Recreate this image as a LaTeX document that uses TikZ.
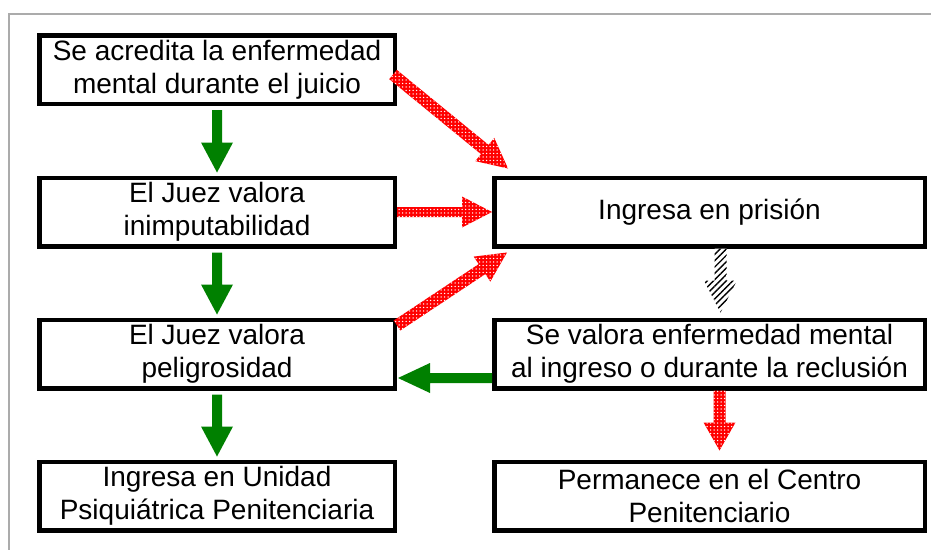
\documentclass[tikz,border=0pt]{standalone}
\usepackage{fontspec}
\setmainfont{Liberation Sans}
\usetikzlibrary{calc,patterns,patterns.meta}

% #1 style, #2 from, #3 to, #4 shaft half width, #5 head half width, #6 head length
\newcommand\blockarrow[6]{%
  \coordinate (ba-h) at ($(#3)!#6!(#2)$);
  \path[#1] ($(#2)!#4!90:(#3)$) -- ($(ba-h)!#4!90:(#3)$) -- ($(ba-h)!#5!90:(#3)$)
    -- (#3) -- ($(ba-h)!#5!-90:(#3)$) -- ($(ba-h)!#4!-90:(#3)$) -- ($(#2)!#4!-90:(#3)$) -- cycle;
}

\definecolor{arrgreen}{RGB}{0,128,0}
\tikzset{
  box/.style={draw, line width=4.5pt, minimum height=68.5pt, align=center,
    font=\fontsize{28}{33}\selectfont, inner sep=0pt},
  lbox/.style={box, minimum width=355.5pt},
  rbox/.style={box, minimum width=430.5pt},
  greenarrow/.style={fill=arrgreen},
  redarrow/.style={preaction={fill=red}, pattern={Dots[radius=0.75pt,distance=3.5pt]}, pattern color=white},
  hatcharrow/.style={preaction={fill=white}, pattern={Lines[angle=45,distance=4.5pt,line width=1.4pt]}, pattern color=black},
  frameline/.style={draw=black!33, line width=1.5pt}
}

\begin{document}
\begin{tikzpicture}[x=1pt,y=-1pt]
\useasboundingbox (0,0) rectangle (931,549);
\draw[frameline] (9,560) -- (9,14) -- (945,14);

\node[lbox] (b1) at (217,69.5) {Se acredita la enfermedad\\mental durante el juicio};
\node[lbox] (b2) at (217,212) {El Juez valora\\inimputabilidad};
\node[lbox] (b3) at (217,354) {El Juez valora\\peligrosidad};
\node[lbox] (b4) at (217,496) {Ingresa en Unidad\\Psiquiátrica Penitenciaria};
\node[rbox] (b5) at (709.5,212) {Ingresa en prisión};
\node[rbox] (b6) at (709.5,354) {Se valora enfermedad mental\\al ingreso o durante la reclusión};
\node[rbox] (b7) at (709.5,496) {Permanece en el Centro\\Penitenciario};

% green arrows down the left column
\coordinate (g1a) at ([yshift=-4pt]b1.south);
\coordinate (g1b) at ([yshift=3pt]b2.north);
\blockarrow{greenarrow}{g1a}{g1b}{5pt}{16pt}{30pt}
\coordinate (g2a) at ([yshift=-4pt]b2.south);
\coordinate (g2b) at ([yshift=3pt]b3.north);
\blockarrow{greenarrow}{g2a}{g2b}{5pt}{16pt}{30pt}
\coordinate (g3a) at ([yshift=-4pt]b3.south);
\coordinate (g3b) at ([yshift=3pt]b4.north);
\blockarrow{greenarrow}{g3a}{g3b}{5pt}{16pt}{30pt}
% green arrow left
\coordinate (g4a) at ([yshift=-24pt]b6.west);
\coordinate (g4b) at ([xshift=1pt,yshift=-24pt]b3.east);
\blockarrow{greenarrow}{g4a}{g4b}{5pt}{15pt}{32pt}

% red arrows into prison
\coordinate (r1a) at ([xshift=-4pt,yshift=-5pt]b1.east);
\coordinate (r1b) at ([xshift=16pt,yshift=7pt]b5.north west);
\blockarrow{redarrow}{r1a}{r1b}{6pt}{15pt}{30pt}
\coordinate (r2a) at (b2.east);
\coordinate (r2b) at (b5.west);
\blockarrow{redarrow}{r2a}{r2b}{5pt}{15.5pt}{30pt}
\coordinate (r3a) at ([yshift=-8pt]b3.north east);
\coordinate (r3b) at ([xshift=15pt,yshift=-4pt]b5.south west);
\blockarrow{redarrow}{r3a}{r3b}{6pt}{15pt}{30pt}

% hatched arrow
\coordinate (h1a) at ([xshift=11pt]b5.south);
\coordinate (h1b) at ([xshift=11pt,yshift=5pt]b6.north);
\blockarrow{hatcharrow}{h1a}{h1b}{6pt}{16.5pt}{32pt}

% red arrow down
\coordinate (r4a) at ([xshift=10pt]b6.south);
\coordinate (r4b) at ([xshift=10pt,yshift=9pt]b7.north);
\blockarrow{redarrow}{r4a}{r4b}{6pt}{16pt}{28pt}
\end{tikzpicture}
\end{document}
